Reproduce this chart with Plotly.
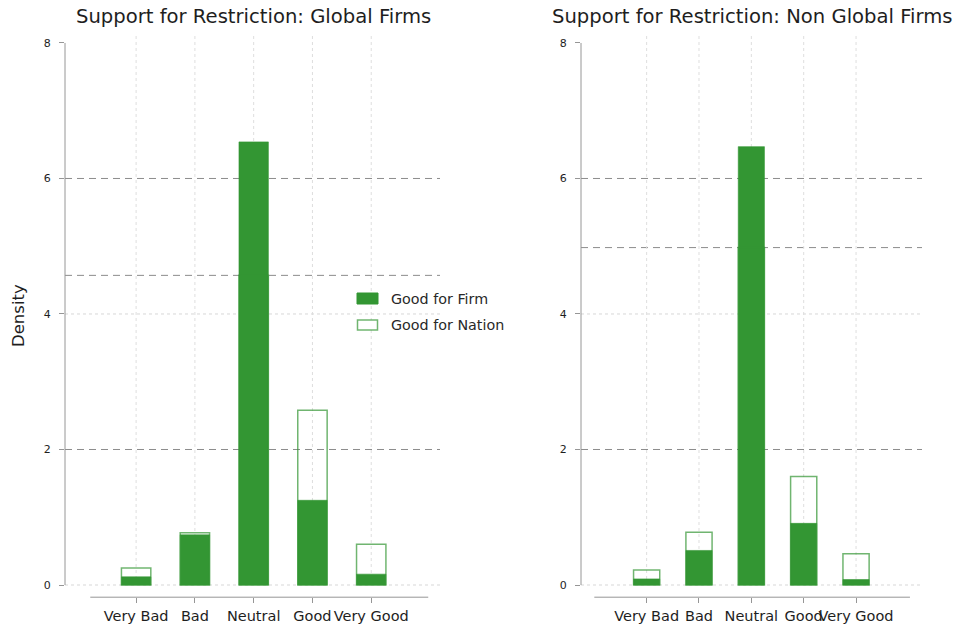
import plotly.graph_objects as go

categories = ["Very Bad", "Bad", "Neutral", "Good", "Very Good"]
cat_pos = [1, 2, 3, 4, 5]

global_firm = [0.12, 0.74, 6.54, 1.25, 0.16]
global_nation = [0.25, 0.77, 4.57, 2.58, 0.60]
nonglobal_firm = [0.09, 0.51, 6.47, 0.91, 0.08]
nonglobal_nation = [0.22, 0.78, 4.98, 1.60, 0.46]

yticks = [0, 2, 4, 6, 8]
dashed_y = [2, 6]
dotted_y = [0, 4]

titles = ["Support for Restriction: Global Firms", "Support for Restriction: Non Global Firms"]
legend_names = ["Good for Firm", "Good for Nation"]

GREEN = "rgb(51,150,51)"
GREEN_LINE = "rgba(51,150,51,0.7)"
FONT = "DejaVu Sans, Liberation Sans, sans-serif"
W, H = 956, 626

panels = [
    dict(firm=global_firm, nation=global_nation, xd=[65 / W, 440 / W], xr=[-0.21, 6.17],
         axis_span=[0.22, 5.97], xa="x", ya="y", title=titles[0], tx=253),
    dict(firm=nonglobal_firm, nation=nonglobal_nation, xd=[581 / W, 922 / W], xr=[-0.254, 6.26],
         axis_span=[0.0, 6.03], xa="x2", ya="y2", title=titles[1], tx=752),
]
ref_vals = [global_nation[2], nonglobal_nation[2]]

y_range = [-0.18, 8.15]
y_dom = [(H - 597.2) / H, (H - 32.8) / H]

fig = go.Figure()
shapes = []
annotations = []

for i, p in enumerate(panels):
    fig.add_trace(go.Bar(x=cat_pos, y=p["firm"], width=0.5, marker=dict(color=GREEN, line=dict(color="rgba(51,150,51,0.6)", width=1)),
                         xaxis=p["xa"], yaxis=p["ya"], showlegend=False, name=legend_names[0]))
    fig.add_trace(go.Bar(x=cat_pos, y=p["nation"], width=0.5, marker=dict(color="rgba(0,0,0,0)", line=dict(color=GREEN_LINE, width=1.5)),
                         xaxis=p["xa"], yaxis=p["ya"], showlegend=False, name=legend_names[1]))
    xr = p["xa"]
    yr = p["ya"]
    for c in cat_pos:
        shapes.append(dict(type="line", xref=xr, yref=yr, x0=c, x1=c, y0=0, y1=y_range[1],
                           line=dict(color="rgb(222,222,222)", width=1, dash="dot"), layer="below"))
    for yv in dotted_y:
        shapes.append(dict(type="line", xref=xr + " domain", yref=yr, x0=0, x1=1, y0=yv, y1=yv,
                           line=dict(color="rgb(215,215,215)", width=1, dash="dot"), layer="below"))
    for yv in dashed_y + [ref_vals[i]]:
        shapes.append(dict(type="line", xref=xr + " domain", yref=yr, x0=0, x1=1, y0=yv, y1=yv,
                           line=dict(color="rgb(140,140,140)", width=1, dash="7px,5px"), layer="below"))
    shapes.append(dict(type="line", xref="paper", yref=yr, x0=p["xd"][0], x1=p["xd"][0], y0=0, y1=8,
                       line=dict(color="rgb(150,150,150)", width=1)))
    shapes.append(dict(type="line", xref=xr, yref="paper", x0=p["axis_span"][0], x1=p["axis_span"][1],
                       y0=y_dom[0], y1=y_dom[0], line=dict(color="rgb(150,150,150)", width=1)))
    annotations.append(dict(text=p["title"], x=p["tx"] / W, y=(H - 17) / H, xref="paper", yref="paper",
                            xanchor="center", yanchor="middle",
                            showarrow=False, font=dict(size=19.6, color="rgb(30,30,30)", family=FONT)))

shapes.append(dict(type="rect", xref="paper", yref="paper", x0=357 / W, x1=378 / W, y0=(H - 304) / H, y1=(H - 293) / H,
                   fillcolor=GREEN, line=dict(color=GREEN, width=1)))
shapes.append(dict(type="rect", xref="paper", yref="paper", x0=357.5 / W, x1=377.5 / W, y0=(H - 330) / H, y1=(H - 320) / H,
                   fillcolor="white", line=dict(color=GREEN_LINE, width=1.5)))
annotations.append(dict(text=legend_names[0], x=389 / W, y=(H - 299) / H, xref="paper", yref="paper", xanchor="left",
                        yanchor="middle", showarrow=False, font=dict(size=14.3, color="rgb(40,40,40)", family=FONT)))
annotations.append(dict(text=legend_names[1], x=389 / W, y=(H - 325) / H, xref="paper", yref="paper", xanchor="left",
                        yanchor="middle", showarrow=False, font=dict(size=14.3, color="rgb(40,40,40)", family=FONT)))
annotations.append(dict(text="Density", x=18 / W, y=(H - 316) / H, xref="paper", yref="paper", textangle=-90,
                        xanchor="center", yanchor="middle",
                        showarrow=False, font=dict(size=16.5, color="rgb(30,30,30)", family=FONT)))

axis_common_x = dict(tickmode="array", tickvals=cat_pos, ticktext=categories, showgrid=False, zeroline=False,
                     showline=False, ticks="outside", ticklen=5, tickcolor="rgb(150,150,150)",
                     tickangle=0, automargin=False,
                     tickfont=dict(size=14.5, color="rgb(30,30,30)", family=FONT))
axis_common_y = dict(tickmode="array", tickvals=yticks, range=y_range, showgrid=False, zeroline=False,
                     showline=False, ticks="outside", ticklen=5, tickcolor="rgb(150,150,150)", domain=y_dom,
                     ticklabelstandoff=6, automargin=False,
                     tickfont=dict(size=11, color="rgb(30,30,30)", family=FONT))

fig.update_layout(
    width=W, height=H, margin=dict(l=0, r=0, t=0, b=0),
    paper_bgcolor="white", plot_bgcolor="white", barmode="overlay", showlegend=False,
    xaxis=dict(domain=panels[0]["xd"], range=panels[0]["xr"], anchor="y", **axis_common_x),
    yaxis=dict(anchor="x", **axis_common_y),
    xaxis2=dict(domain=panels[1]["xd"], range=panels[1]["xr"], anchor="y2", **axis_common_x),
    yaxis2=dict(anchor="x2", **axis_common_y),
    shapes=shapes, annotations=annotations,
)

fig.write_html("out.html")
